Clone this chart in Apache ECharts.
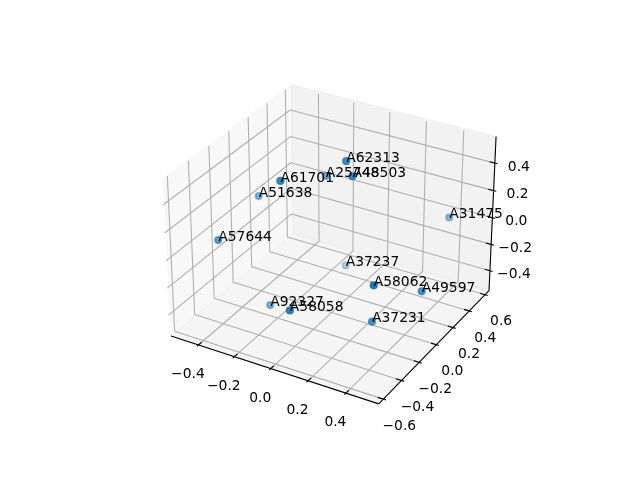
<!DOCTYPE html>
<html>
<head>
<meta charset="utf-8">
<style>
  html, body { margin: 0; padding: 0; background: #fff; }
  #main { width: 640px; height: 480px; }
</style>
<script src="https://cdn.jsdelivr.net/npm/echarts@6/dist/echarts.min.js"></script>
</head>
<body>
<div id="main"></div>
<script>
// point names and their values
var pointNames = ['A62313', 'A48503', 'A25748', 'A61701', 'A51638', 'A57644', 'A31475', 'A37237', 'A58062', 'A49597', 'A37231', 'A92327', 'A58058'];
var xValues = [0.013, 0.076, -0.158, -0.209, -0.435, -0.482, 0.369, -0.068, 0.347, 0.453, 0.267, -0.255, 0.001];
var yValues = [0.132, 0.072, 0.250, -0.133, 0.057, -0.281, 0.579, 0.295, -0.248, 0.073, -0.093, -0.175, -0.449];
var zValues = [0.492, 0.439, 0.261, 0.414, 0.117, -0.034, -0.034, -0.402, -0.053, -0.251, -0.451, -0.494, -0.254];

// axis ticks
var xTicks = [-0.4, -0.2, 0, 0.2, 0.4];
var yTicks = [-0.6, -0.4, -0.2, 0, 0.2, 0.4, 0.6];
var zTicks = [-0.4, -0.2, 0, 0.2, 0.4];
var xLimits = [-0.555, 0.57];
var yLimits = [-0.65, 0.65];
var zLimits = [-0.5545, 0.5795];

var blue = '#1f77b4';
var fontName = '"DejaVu Sans"';
var fontPx = 13.89;

// same camera as a default 3d axes: elev 30, azim -60, dist 10
var elev = 30 * Math.PI / 180;
var azim = -60 * Math.PI / 180;
var dist = 10;
var boxScale = 1.8294640721620434 * 25 / 24 / Math.sqrt(41);
var box = [4 * boxScale, 4 * boxScale, 3 * boxScale];
var w = [Math.cos(elev) * Math.cos(azim), Math.cos(elev) * Math.sin(azim), Math.sin(elev)];
var u = [-Math.sin(azim), Math.cos(azim), 0];
var v = [w[1] * u[2] - w[2] * u[1], w[2] * u[0] - w[0] * u[2], w[0] * u[1] - w[1] * u[0]];

function dot(a, b) {
  return a[0] * b[0] + a[1] * b[1] + a[2] * b[2];
}

// returns [pageX, pageY from bottom, depth]
function project(x, y, z) {
  var p = [
    ((x - xLimits[0]) / (xLimits[1] - xLimits[0]) - 0.5) * box[0],
    ((y - yLimits[0]) / (yLimits[1] - yLimits[0]) - 0.5) * box[1],
    ((z - zLimits[0]) / (zLimits[1] - zLimits[0]) - 0.5) * box[2]
  ];
  var d = dot(p, w);
  var sx = dot(p, u) / (dist - d);
  var sy = dot(p, v) / (dist - d);
  return [
    143.2 + (sx + 0.095) / 0.185 * 369.6,
    52.8 + (sy + 0.095) / 0.185 * 369.6,
    d
  ];
}

function path(points) {
  return points.map(function (p) {
    var q = project(p[0], p[1], p[2]);
    return [q[0], q[1]];
  });
}

var x0 = xLimits[0], x1 = xLimits[1];
var y0 = yLimits[0], y1 = yLimits[1];
var z0 = zLimits[0], z1 = 0.59;
// grid lines sit a little inside the pane at the top and behind it on the left
var gridX = x0 - 0.009;
var gridTop = zLimits[1] - 0.006;

function lineSeries(points, color, width, z) {
  return {
    type: 'line',
    data: path(points),
    showSymbol: false,
    silent: true,
    clip: false,
    z: z,
    lineStyle: { color: color, width: width }
  };
}

// the three back walls
var panes = [
  { color: 'rgba(242,242,242,0.5)', points: path([[x0, y0, z0], [x0, y1, z0], [x0, y1, z1], [x0, y0, z1]]) },
  { color: 'rgba(230,230,230,0.5)', points: path([[x0, y1, z0], [x1, y1, z0], [x1, y1, z1], [x0, y1, z1]]) },
  { color: 'rgba(236,236,236,0.5)', points: path([[x0, y0, z0], [x1, y0, z0], [x1, y1, z0], [x0, y1, z0]]) }
];

var series = [];
series.push({
  type: 'custom',
  silent: true,
  clip: false,
  z: 1,
  data: panes.map(function (p, i) { return [i]; }),
  encode: { x: 0 },
  renderItem: function (params, api) {
    var pane = panes[params.dataIndex];
    return {
      type: 'polygon',
      shape: { points: pane.points.map(function (p) { return api.coord(p); }) },
      style: { fill: pane.color, stroke: pane.color, lineWidth: 1 }
    };
  }
});

// grid lines
var gridColor = '#b0b0b0';
xTicks.forEach(function (t) {
  series.push(lineSeries([[t, y0, z0], [t, y1, z0], [t, y1, gridTop]], gridColor, 1.1, 2));
});
yTicks.forEach(function (t) {
  series.push(lineSeries([[x1, t, z0], [gridX, t, z0], [gridX, t, gridTop]], gridColor, 1.1, 2));
});
zTicks.forEach(function (t) {
  series.push(lineSeries([[gridX, y0, t], [gridX, y1, t], [x1, y1, t]], gridColor, 1.1, 2));
});

// axis lines
series.push(lineSeries([[x0, y0, z0], [x1, y0, z0]], '#000', 1.1, 3));
series.push(lineSeries([[x1, y0, z0], [x1, y1, z0]], '#000', 1.1, 3));
series.push(lineSeries([[x1, y1, z0], [x1, y1, z1]], '#000', 1.1, 3));

// tick marks
var yTickLen = (y1 - y0) / 12;
var xTickLen = (x1 - x0) / 12;
xTicks.forEach(function (t) {
  series.push(lineSeries([[t, y0 - 0.15 * yTickLen, z0], [t, y0 + 0.3 * yTickLen, z0]], '#000', 1.1, 3));
});
yTicks.forEach(function (t) {
  series.push(lineSeries([[x1 + 0.15 * xTickLen, t, z0], [x1 - 0.3 * xTickLen, t, z0]], '#000', 1.1, 3));
});
zTicks.forEach(function (t) {
  series.push(lineSeries([[x1 + 0.15 * xTickLen, y1, t], [x1 - 0.3 * xTickLen, y1, t]], '#000', 1.1, 3));
});

// tick labels, offset from the tick in pixels
function tickText(t) {
  return t.toFixed(1).replace('-', '\u2212');
}
var tickLabels = [];
xTicks.forEach(function (t) {
  var q = project(t, y0, z0);
  tickLabels.push({ text: tickText(t), pos: [q[0] - 10.5, q[1] - 29.5] });
});
yTicks.forEach(function (t) {
  var q = project(x1, t, z0);
  tickLabels.push({ text: tickText(t), pos: [q[0] + 16, q[1] - 27] });
});
zTicks.forEach(function (t) {
  var q = project(x1, y1, t);
  tickLabels.push({ text: tickText(t), pos: [q[0] + 24, q[1] - 4] });
});
series.push({
  type: 'custom',
  silent: true,
  clip: false,
  z: 4,
  data: tickLabels.map(function (l, i) { return [i]; }),
  encode: { x: 0 },
  renderItem: function (params, api) {
    var l = tickLabels[params.dataIndex];
    var c = api.coord(l.pos);
    return {
      type: 'text',
      style: {
        x: c[0], y: c[1], text: l.text, fill: '#000',
        font: fontPx + 'px ' + fontName, align: 'center', verticalAlign: 'middle'
      }
    };
  }
});

// points, far ones first, fainter with depth like depthshade
var projected = pointNames.map(function (name, i) {
  return project(xValues[i], yValues[i], zValues[i]);
});
var depths = projected.map(function (q) { return q[2]; });
var depthMin = Math.min.apply(null, depths);
var depthMax = Math.max.apply(null, depths);
var pointData = projected.slice().sort(function (a, b) { return a[2] - b[2]; }).map(function (q) {
  return {
    value: [q[0], q[1]],
    itemStyle: { opacity: 0.3 + 0.7 * (q[2] - depthMin) / (depthMax - depthMin) }
  };
});
series.push({
  type: 'scatter',
  silent: true,
  clip: false,
  z: 5,
  symbol: 'circle',
  symbolSize: 6.2,
  data: pointData,
  itemStyle: { color: blue, borderColor: blue, borderWidth: 2 }
});

// names sit with their baseline on the point
series.push({
  type: 'custom',
  silent: true,
  clip: false,
  z: 6,
  data: pointNames.map(function (n, i) { return [i]; }),
  encode: { x: 0 },
  renderItem: function (params, api) {
    var q = projected[params.dataIndex];
    var c = api.coord([q[0], q[1]]);
    return {
      type: 'text',
      style: {
        x: c[0], y: c[1] - 3, text: pointNames[params.dataIndex], fill: '#000',
        font: fontPx + 'px ' + fontName, align: 'left', verticalAlign: 'middle'
      }
    };
  }
});

var chart = echarts.init(document.getElementById('main'), null, { renderer: 'canvas' });
chart.setOption({
  animation: false,
  backgroundColor: '#fff',
  grid: { left: 0, right: 0, top: 0, bottom: 0 },
  xAxis: { type: 'value', min: 0, max: 640, show: false },
  yAxis: { type: 'value', min: 0, max: 480, show: false },
  series: series
});
</script>
</body>
</html>
